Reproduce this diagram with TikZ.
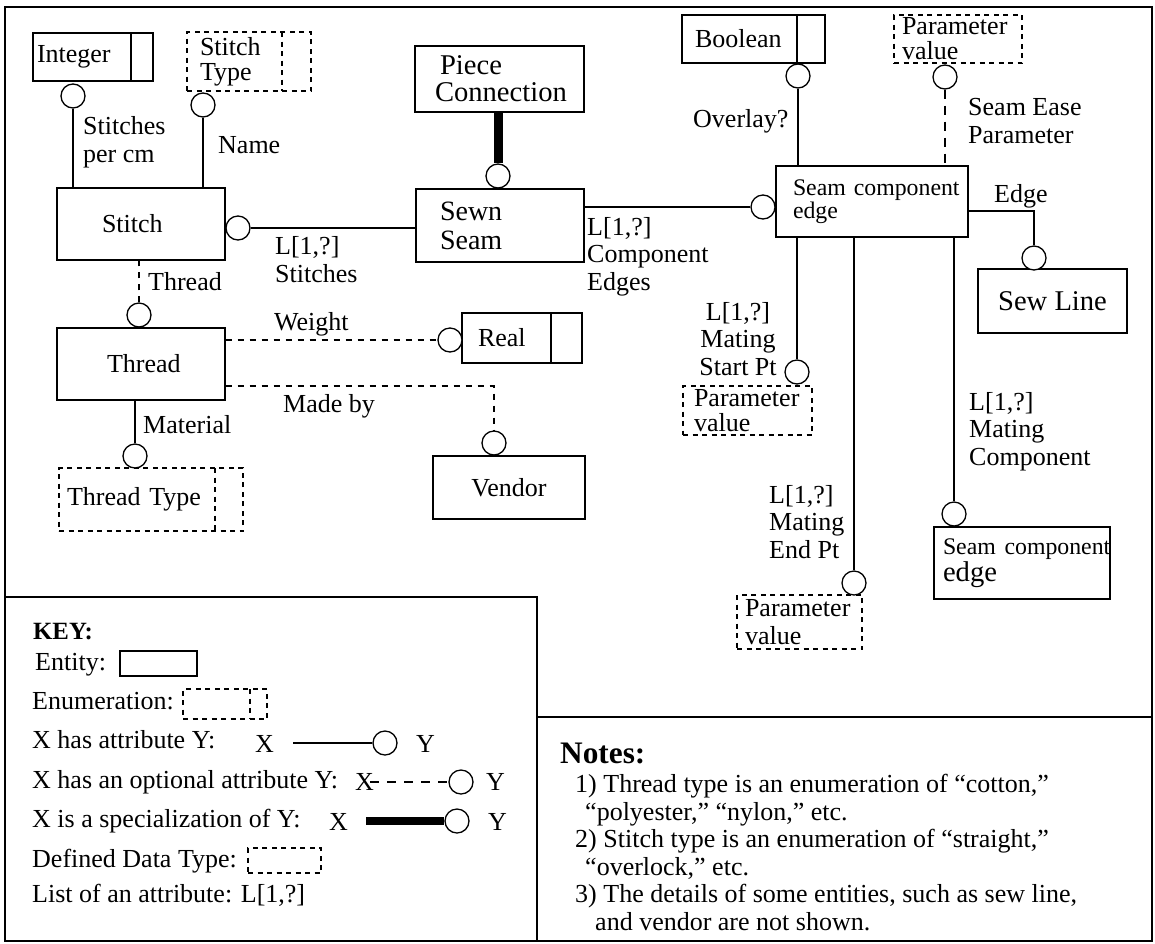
\documentclass[tikz,border=0pt]{standalone}
\usepackage{fontspec}
\setmainfont{Liberation Serif}
\usetikzlibrary{positioning}

\newcommand{\smallfnt}{\fontsize{23.8}{20}\selectfont}
\newcommand{\bigfnt}{\fontsize{28.6}{27}\selectfont}

\tikzset{
  entity/.style={draw, line width=1.3pt, inner ysep=0pt, align=left},
  enum/.style={entity, dash pattern=on 5pt off 4.5pt},
  divline/.style={path picture={\draw[line width=1.3pt] ([xshift=-#1]path picture bounding box.north east) -- ([xshift=-#1]path picture bounding box.south east);}},
  att/.style={circle, draw, line width=1.3pt, fill=white, minimum size=24pt, inner sep=0pt},
  lbl/.style={anchor=base west, inner sep=0pt, align=left},
  conn/.style={line width=1.3pt},
  optl/.style={conn, dash pattern=on 6pt off 6pt},
  isa/.style={line width=9pt}
}

\begin{document}
\begin{tikzpicture}[x=1pt, y=-1pt, every node/.append style={font=\fontsize{26}{27.5}\selectfont}]
\useasboundingbox (0,0) rectangle (1155,943);
\draw[conn] (5,7) rectangle (1152,941);

% entities and types
\node[entity, divline=22pt, text width=112pt, inner xsep=4pt, minimum height=48pt] (int) at (93,57) {Integer};
\node[enum, divline=29pt, text width=98pt, inner xsep=13pt, minimum height=59pt, font=\fontsize{26}{25}\selectfont] (stype) at (249,61.5) {Stitch\\Type};
\node[entity, text width=78pt, inner xsep=45pt, minimum height=72pt] (stitch) at (141,224) {Stitch};
\node[entity, text width=68pt, inner xsep=50pt, minimum height=72pt] (thread) at (141,364) {Thread};
\node[entity, font=\bigfnt, text width=129pt, inner xsep=20pt, minimum height=66pt] (piece) at (499.5,79) {\hspace*{5pt}Piece\\Connection};
\node[entity, font=\fontsize{28}{29}\selectfont, text width=120pt, inner xsep=24pt, minimum height=73pt] (sewn) at (500,225.5) {Sewn\\Seam};
\node[entity, divline=28pt, text width=117pt, inner xsep=13pt, minimum height=48pt] (bool) at (753.5,39) {Boolean};
\node[enum, text width=112pt, inner xsep=8pt, minimum height=48pt, font=\fontsize{26}{25}\selectfont] (ptop) at (958,39) {Parameter\\value};
\node[entity, font=\smallfnt, text width=158pt, inner xsep=17pt, minimum height=71pt] (sce) at (872,201.5) {\mbox{Seam component}\\edge};
\node[entity, font=\bigfnt, align=center, minimum width=149pt, minimum height=64pt] (sewline) at (1052.5,301) {Sew Line};
\node[entity, divline=31pt, text width=88pt, inner xsep=16pt, minimum height=50pt] (real) at (522,338) {Real};
\node[entity, align=center, minimum width=152pt, minimum height=63pt] (vendor) at (509,487.5) {Vendor};
\node[enum, divline=28pt, text width=168pt, inner xsep=8pt, minimum height=63pt] (ttype) at (151,499.5) {Thread Type};
\node[enum, text width=107pt, inner xsep=11pt, minimum height=49pt, font=\fontsize{26}{25}\selectfont] (pstart) at (747.5,410.5) {Parameter\\value};
\node[enum, text width=109pt, inner xsep=8pt, minimum height=54pt] (pend) at (799.5,622) {Parameter\\value};
\node[entity, text width=158pt, inner xsep=9pt, minimum height=72pt] (scebot) at (1022,563) {{\smallfnt\mbox{Seam component}}\\{\bigfnt edge}};

% attribute circles
\node[att] (cint) at (73,96) {};
\node[att] (cstype) at (203,105) {};
\node[att] (cstitch) at (238,228) {};
\node[att] (csewn) at (498,176) {};
\node[att] (csce) at (763,207) {};
\node[att] (cbool) at (798,76) {};
\node[att] (cptop) at (945,77) {};
\node[att] (csewline) at (1034,258) {};
\node[att] (cthread) at (139,315) {};
\node[att] (creal) at (450,340) {};
\node[att] (cvendor) at (494,443) {};
\node[att] (cttype) at (135,456) {};
\node[att] (cpstart) at (797,372) {};
\node[att] (cpend) at (854,583) {};
\node[att] (cscebot) at (954,514) {};

% connectors
\draw[conn] (cint) -- (cint |- stitch.north);
\draw[conn] (cstype) -- (cstype |- stitch.north);
\draw[conn] (cstitch) -- (cstitch -| sewn.west);
\draw[isa] (csewn) -- (csewn |- piece.south);
\draw[conn] (sewn.east |- csce) -- (csce);
\draw[conn] (cbool) -- (cbool |- sce.north);
\draw[optl, dash pattern=on 9pt off 7pt] (cptop) -- (cptop |- sce.north);
\draw[conn] ([yshift=-9.5pt]sce.east) -| (csewline.north);
\draw[optl] (cthread) -- (cthread |- stitch.south);
\draw[optl] (thread.east |- creal) -- (creal);
\draw[optl] ([yshift=-22pt]thread.east) -| (cvendor.north);
\draw[conn] (cttype) -- (cttype |- thread.south);
\draw[conn] (cpstart) -- (cpstart |- sce.south);
\draw[conn] (cpend) -- (cpend |- sce.south);
\draw[conn] (cscebot) -- (cscebot |- sce.south);

% attribute names (placed by the baseline of the last line)
\node[lbl] (lspc) at (83,162) {Stitches\\per cm};
\node[lbl] (lname) at (218,153) {Name};
\node[lbl] (lstitches) at (275,282) {L[1,?]\\Stitches};
\node[lbl] (lthread) at (148,290) {Thread};
\node[lbl] (ledges) at (587,290) {L[1,?]\\Component\\Edges};
\node[lbl] (loverlay) at (693,127) {Overlay?};
\node[lbl] (lease) at (968,143) {Seam Ease\\Parameter};
\node[lbl] (ledge) at (994,202) {Edge};
\node[lbl] (lweight) at (274,330) {Weight};
\node[lbl] (lmade) at (283,412) {Made by};
\node[lbl] (lmat) at (143,433) {Material};
\node[lbl, anchor=base, align=center] (lstart) at (738,375) {L[1,?]\\Mating\\Start Pt};
\node[lbl] (lend) at (769,558) {L[1,?]\\Mating\\End Pt};
\node[lbl] (lmcomp) at (969,465) {L[1,?]\\Mating\\Component};

% key
\draw[conn] (5,597) -| (537,941);
\node[lbl, font=\fontsize{24.8}{27}\selectfont\bfseries] (keyt) at (33,639) {KEY:};
\node[lbl] (kent) at (35,670) {Entity:};
\node[entity, minimum width=77pt, minimum height=25pt] (kentbox) at (158.5,663.5) {};
\node[lbl] (kenum) at (32,709) {Enumeration:};
\node[enum, divline=17pt, minimum width=84pt, minimum height=30pt] (kenumbox) at (225,704) {};
\node[lbl] (katt) at (32,748) {X has attribute Y:};
\node[lbl] (kx1) at (255,752) {X};
\node[att] (kc1) at (385,743) {};
\node[lbl] (ky1) at (416,752) {Y};
\coordinate (kl1) at (293,743);
\draw[conn] (kl1) -- (kc1);
\node[lbl] (kopt) at (32,788) {X has an optional attribute Y:};
\node[lbl] (kx2) at (355,790) {X};
\node[att] (kc2) at (461,782) {};
\node[lbl] (ky2) at (486,790) {Y};
\coordinate (kl2) at (370,782);
\draw[optl, dash pattern=on 9pt off 8pt] (kl2) -- (kc2);
\node[lbl] (kspec) at (32,827) {X is a specialization of Y:};
\node[lbl] (kx3) at (329,830) {X};
\node[att] (kc3) at (457,821) {};
\node[lbl] (ky3) at (488,830) {Y};
\coordinate (kl3) at (366,821);
\draw[isa, line width=8pt] (kl3) -- (kc3);
\node[lbl] (kddt) at (32,867) {Defined Data Type:};
\node[enum, minimum width=73pt, minimum height=25pt] (kddtbox) at (284.5,860.5) {};
\node[lbl] (klist) at (32,902) {List of an attribute: L[1,?]};

% notes
\draw[conn] (537,717) -- (1152,717);
\node[lbl, font=\fontsize{31.3}{30}\selectfont\bfseries] (notes) at (560,763) {Notes:};
\node[lbl] (notetxt) at (575,930) {1) Thread type is an enumeration of “cotton,”\\
\hspace*{10pt}“polyester,” “nylon,” etc.\\
2) Stitch type is an enumeration of “straight,”\\
\hspace*{10pt}“overlock,” etc.\\
3) The details of some entities, such as sew line,\\
\hspace*{20pt}and vendor are not shown.};
\end{tikzpicture}
\end{document}
